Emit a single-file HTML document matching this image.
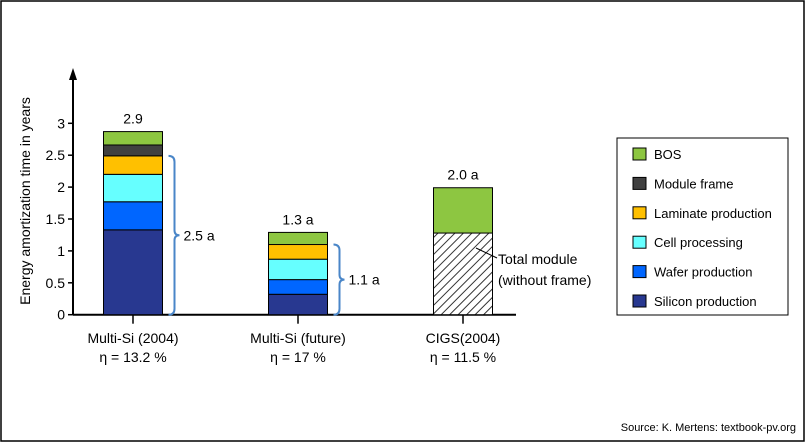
<!DOCTYPE html>
<html><head><meta charset="utf-8"><style>
html,body{margin:0;padding:0;background:#fff;}
svg{display:block;font-family:"Liberation Sans",Arial,sans-serif;}
</style></head><body>
<svg id="chart" width="807" height="443" viewBox="0 0 807 443">
<defs>
<pattern id="hatch" patternUnits="userSpaceOnUse" width="6" height="6" patternTransform="rotate(45)">
<rect width="6" height="6" fill="#fff"/><line x1="0" y1="0" x2="0" y2="6" stroke="#333" stroke-width="2"/>
</pattern>
</defs>
<rect x="1" y="1" width="803" height="440" fill="#fff" stroke="#000" stroke-width="1.5"/>
<g id="plot"></g>
<text x="19" y="190" transform="rotate(-90 30 190)" font-size="14" text-anchor="middle" x2="0">Energy amortization time in years</text>
<text x="796" y="431" font-size="11" text-anchor="end">Source: K. Mertens: textbook-pv.org</text>
</svg>
<script>
const categories = ["Multi-Si (2004)", "Multi-Si (future)", "CIGS(2004)"];
const efficiencies = ["η = 13.2 %", "η = 17 %", "η = 11.5 %"];
const seriesNames = ["Silicon production","Wafer production","Cell processing","Laminate production","Module frame","BOS"];
const seriesColors = ["#283890","#0066ff","#66ffff","#ffc000","#404040","#8dc641"];
const silicon = [1.33, 0.32, 0];
const wafer = [0.44, 0.23, 0];
const cell = [0.43, 0.32, 0];
const laminate = [0.29, 0.23, 0];
const frame = [0.17, 0, 0];
const bos = [0.21, 0.19, 0.71];
const totalModule = [0, 0, 1.28];
const topLabels = ["2.9", "1.3 a", "2.0 a"];
const braceLabels = ["2.5 a", "1.1 a", ""];
const yTicks = [0, 0.5, 1, 1.5, 2, 2.5, 3];
const yTickLabels = ["0","0.5","1","1.5","2","2.5","3"];

const NS = "http://www.w3.org/2000/svg";
const g = document.getElementById("plot");
const y0 = 314.7, pxPerUnit = 63.8, axisX = 73;
const yScale = v => y0 - v * pxPerUnit;
const xCenter = i => 133 + i * 165;
const barW = 59;
function mk(tag, attrs, parent) {
  const e = document.createElementNS(NS, tag);
  for (const k in attrs) e.setAttribute(k, attrs[k]);
  (parent || g).appendChild(e);
  return e;
}
// axes
let el = mk("line", {x1: axisX, y1: y0, x2: axisX, y2: 78, stroke: "#000", "stroke-width": 2});


el = mk("path", {d: `M${axisX-4},80 L${axisX},68 L${axisX+4},80 Z`, fill: "#000"});


el = mk("line", {x1: axisX, y1: y0, x2: 516, y2: y0, stroke: "#000", "stroke-width": 2});


yTicks.forEach((t, i) => {
  const y = yScale(t);
  let l = mk("line", {x1: axisX - 5, y1: y, x2: axisX, y2: y, stroke: "#000", "stroke-width": 1.5});
  
  
  let tx = mk("text", {x: axisX - 8, y: y + 5, "font-size": 14, "text-anchor": "end"});
  tx.textContent = yTickLabels[i];
  
  
});
const stacks = [silicon, wafer, cell, laminate, frame, bos];
categories.forEach((c, i) => {
  const cx = xCenter(i), x = cx - barW / 2;
  let l = mk("line", {x1: cx, y1: y0, x2: cx, y2: y0 + 9, stroke: "#000", "stroke-width": 1.5});
  
  
  let cum = 0;
  if (totalModule[i] > 0) {
    let r = mk("rect", {x: x, y: yScale(totalModule[i]), width: barW, height: totalModule[i] * pxPerUnit, fill: "url(#hatch)", stroke: "#000", "stroke-width": 1});
    
    
    cum = totalModule[i];
  }
  stacks.forEach((s, k) => {
    if (s[i] <= 0) return;
    let r = mk("rect", {x: x, y: yScale(cum + s[i]), width: barW, height: s[i] * pxPerUnit, fill: seriesColors[k], stroke: "#000", "stroke-width": 1});
    
    
    cum += s[i];
  });
  let tl = mk("text", {x: cx, y: yScale(cum) - 8, "font-size": 14, "text-anchor": "middle"});
  tl.textContent = topLabels[i];
  
  
  let c1 = mk("text", {x: cx, y: 343, "font-size": 14, "text-anchor": "middle"});
  c1.textContent = c;
  
  
  let c2 = mk("text", {x: cx, y: 362, "font-size": 14, "text-anchor": "middle"});
  c2.textContent = efficiencies[i];
  
  
  if (braceLabels[i]) {
    const top = silicon[i] + wafer[i] + cell[i] + laminate[i];
    const yt = yScale(top), yb = y0, ym = (yt + yb) / 2, bx = x + barW + 6;
    let b = mk("path", {d: `M${bx},${yt} Q${bx+6},${yt} ${bx+6},${yt+6} L${bx+6},${ym-5} Q${bx+6},${ym} ${bx+11},${ym} Q${bx+6},${ym} ${bx+6},${ym+5} L${bx+6},${yb-6} Q${bx+6},${yb} ${bx},${yb}`, fill: "none", stroke: "#4a86c8", "stroke-width": 2});
    
    
    let bt = mk("text", {x: bx + 15, y: ym + 5, "font-size": 14});
    bt.textContent = braceLabels[i];
    
    
  }
});
// annotation
el = mk("line", {x1: 476, y1: 248, x2: 497, y2: 258, stroke: "#000", "stroke-width": 1});


el = mk("text", {x: 498, y: 264, "font-size": 14});
el.textContent = "Total module";


el = mk("text", {x: 498, y: 285, "font-size": 14});
el.textContent = "(without frame)";


// legend
const lg = mk("g", {});


mk("rect", {x: 617, y: 138, width: 171, height: 177, fill: "#fff", stroke: "#000", "stroke-width": 1}, lg);
for (let k = seriesNames.length - 1, row = 0; k >= 0; k--, row++) {
  const y = 148 + row * 29.4;
  const e = mk("g", {}, lg);
  
  
  mk("rect", {x: 633, y: y, width: 13, height: 12, fill: seriesColors[k], stroke: "#000", "stroke-width": 1}, e);
  const t = mk("text", {x: 654, y: y + 11, "font-size": 13}, e);
  t.textContent = seriesNames[k];
}
</script>
</body></html>
